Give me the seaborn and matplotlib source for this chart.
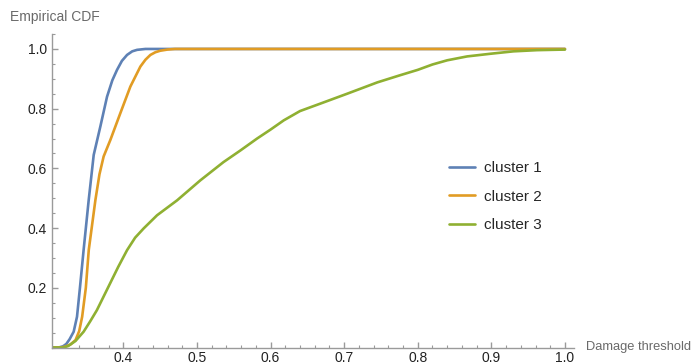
import numpy as np
import pandas as pd
import matplotlib
matplotlib.use("Agg")
import matplotlib.pyplot as plt
from matplotlib.ticker import MultipleLocator, FixedLocator
import seaborn as sns

# Donnees (CDF empiriques)
x_c1 = [0.303, 0.312, 0.318, 0.3225, 0.327, 0.3325, 0.337, 0.341, 0.346, 0.3529,
        0.3597, 0.3687, 0.3778, 0.385, 0.3914, 0.398, 0.405, 0.412, 0.4186, 0.43,
        0.5, 1.0]
y_c1 = [0.0, 0.0, 0.004, 0.012, 0.028, 0.053, 0.103, 0.2, 0.327, 0.494,
        0.645, 0.74, 0.84, 0.895, 0.93, 0.96, 0.98, 0.992, 0.997, 1.0,
        1.0, 1.0]

x_c2 = [0.303, 0.315, 0.321, 0.328, 0.335, 0.340, 0.344, 0.349, 0.353, 0.362,
        0.3675, 0.3732, 0.3823, 0.3959, 0.4095, 0.4231, 0.430, 0.4367, 0.4435, 0.450,
        0.46, 0.47, 0.5, 1.0]
y_c2 = [0.0, 0.0, 0.003, 0.01, 0.025, 0.055, 0.103, 0.2, 0.327, 0.494,
        0.58, 0.64, 0.695, 0.785, 0.874, 0.941, 0.964, 0.980, 0.989, 0.994,
        0.998, 1.0, 1.0, 1.0]

x_c3 = [0.303, 0.318, 0.325, 0.335, 0.346, 0.355, 0.364, 0.373, 0.382, 0.393,
        0.405, 0.416, 0.4276, 0.4458, 0.473, 0.5046, 0.536, 0.559, 0.5817, 0.60,
        0.618, 0.640, 0.6677, 0.704, 0.745, 0.776, 0.80, 0.82, 0.840, 0.867,
        0.899, 0.930, 0.962, 1.0]
y_c3 = [0.0, 0.0, 0.005, 0.022, 0.053, 0.088, 0.125, 0.17, 0.215, 0.27,
        0.326, 0.368, 0.399, 0.443, 0.493, 0.560, 0.621, 0.66, 0.700, 0.73,
        0.761, 0.792, 0.817, 0.850, 0.888, 0.912, 0.93, 0.948, 0.962, 0.975,
        0.984, 0.992, 0.996, 0.998]

labels = ["cluster 1", "cluster 2", "cluster 3"]
couleurs = ["#5E81B5", "#E19C24", "#8FB032"]

df = pd.concat([
    pd.DataFrame({"x": x_c1, "y": y_c1, "cluster": labels[0]}),
    pd.DataFrame({"x": x_c2, "y": y_c2, "cluster": labels[1]}),
    pd.DataFrame({"x": x_c3, "y": y_c3, "cluster": labels[2]}),
])

sns.set_style("white")
plt.rcParams["font.family"] = ["Liberation Sans", "DejaVu Sans"]

fig = plt.figure(figsize=(6.93, 3.62), dpi=100)
ax = fig.add_axes([0.075, 0.040, 0.753, 0.866])

sns.lineplot(data=df, x="x", y="y", hue="cluster", palette=couleurs,
             sort=False, estimator=None, lw=1.9, ax=ax)

ax.set_xlim(0.303, 1.012)
ax.set_ylim(0, 1.05)

# Axes style Mathematica
for s in ["top", "right"]:
    ax.spines[s].set_visible(False)
for s in ["left", "bottom"]:
    ax.spines[s].set_color("#9a9a9a")
    ax.spines[s].set_linewidth(1.0)

ax.xaxis.set_major_locator(FixedLocator([0.4, 0.5, 0.6, 0.7, 0.8, 0.9, 1.0]))
ax.xaxis.set_minor_locator(MultipleLocator(0.02))
ax.yaxis.set_major_locator(FixedLocator([0.2, 0.4, 0.6, 0.8, 1.0]))
ax.yaxis.set_minor_locator(MultipleLocator(0.05))
ax.tick_params(which="both", bottom=True, left=True, direction="in",
               color="#9a9a9a", labelcolor="#222222", labelsize=10)
ax.tick_params(which="major", length=4.5, width=1.0)
ax.tick_params(which="minor", length=2.5, width=0.8)
ax.tick_params(axis="x", pad=2.5)
ax.tick_params(axis="y", pad=3.5)
ax.set_xlabel("")
ax.set_ylabel("")

fig.text(10 / 693, 1 - 17 / 362, "Empirical CDF", fontsize=10, color="#6a6a6a",
         ha="left", va="center")
fig.text(586 / 693, 1 - 347 / 362, "Damage threshold", fontsize=9.3, color="#6a6a6a",
         ha="left", va="center")

leg = ax.legend(loc="upper left", bbox_to_anchor=(0.761, 0.595), frameon=False,
                fontsize=11, handlelength=1.7, handletextpad=0.6,
                labelspacing=0.95, borderpad=0, borderaxespad=0)

fig.savefig("out.png", dpi=100)
